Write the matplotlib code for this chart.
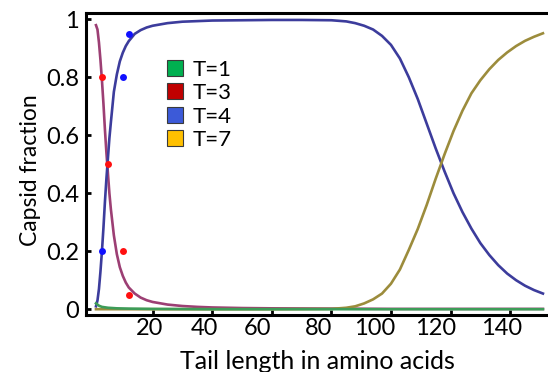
import numpy as np
import matplotlib
matplotlib.use("Agg")
import matplotlib.pyplot as plt
import matplotlib.patches as mpatches
import matplotlib.transforms as mtrans

plt.rcParams['font.family'] = ['Lato', 'DejaVu Sans']

# ---- data ----
t3_x = [1, 1.5, 2, 2.5, 3, 3.5, 4, 4.5, 5, 5.5, 6, 7, 8, 9, 10, 11, 12, 14, 16,
        18, 20, 25, 30, 35, 40, 50, 60, 80, 100, 120, 151]
t3_y = [0.98, 0.965, 0.92, 0.86, 0.79, 0.71, 0.62, 0.54, 0.47, 0.40, 0.345,
        0.255, 0.19, 0.145, 0.115, 0.092, 0.075, 0.054, 0.040, 0.031, 0.025,
        0.016, 0.011, 0.008, 0.006, 0.004, 0.003, 0.002, 0.001, 0.001, 0.001]

t4_x = [1, 1.5, 2, 2.5, 3, 3.5, 4, 4.5, 5, 5.5, 6, 7, 8, 9, 10, 11, 12, 14, 16,
        18, 20, 25, 30, 35, 40, 50, 60, 70, 80, 85, 88, 91, 94, 97, 100, 103,
        106, 109, 112, 115, 118, 121, 124, 127, 130, 133, 136, 139, 142, 145,
        148, 151]
t4_y = [0.01, 0.03, 0.07, 0.13, 0.20, 0.28, 0.37, 0.45, 0.52, 0.59, 0.645,
        0.75, 0.81, 0.855, 0.885, 0.908, 0.925, 0.95, 0.963, 0.972, 0.978,
        0.987, 0.992, 0.994, 0.996, 0.997, 0.998, 0.998, 0.997, 0.993, 0.987,
        0.978, 0.965, 0.943, 0.912, 0.865, 0.80, 0.725, 0.64, 0.555, 0.475,
        0.40, 0.335, 0.278, 0.228, 0.187, 0.152, 0.123, 0.10, 0.081, 0.066,
        0.054]

t7_x = [1, 10, 20, 40, 60, 80, 85, 88, 91, 94, 97, 100, 103, 106, 109, 112,
        115, 118, 121, 124, 127, 130, 133, 136, 139, 142, 145, 148, 151]
t7_y = [0.0, 0.0, 0.0, 0.0, 0.0, 0.001, 0.005, 0.01, 0.02, 0.034, 0.054,
        0.088, 0.137, 0.205, 0.277, 0.36, 0.45, 0.535, 0.615, 0.685, 0.745,
        0.79, 0.828, 0.86, 0.886, 0.908, 0.926, 0.94, 0.952]

t1_x = [1, 2, 3, 5, 8, 12, 20, 40, 80, 120, 151]
t1_y = [0.02, 0.012, 0.008, 0.005, 0.003, 0.002, 0.001, 0.0, 0.0, 0.0, 0.0]

pts_x = [3, 5, 10, 12]
pts_t3 = [0.8, 0.5, 0.2, 0.05]
pts_t4_x = [3, 10, 12]
pts_t4 = [0.2, 0.8, 0.95]

legend_labels = ['T=1', 'T=3', 'T=4', 'T=7']
legend_colors = ['#00b050', '#c00000', '#3c5ad8', '#ffc000']

xticks = [20, 40, 60, 80, 100, 120, 140]
yticks = [0, 0.2, 0.4, 0.6, 0.8, 1]
ytick_labels = ['0', '0.2', '0.4', '0.6', '0.8', '1']

# ---- figure ----
fig = plt.figure(figsize=(5.48, 3.72), dpi=100)
ax = fig.add_axes([86/548, 1 - 315/372, 462/548, 302/372])

lw = 1.9
ax.plot(t3_x, t3_y, color='#9c3f74', lw=lw, zorder=3)
ax.plot(t4_x, t4_y, color='#3c3c9c', lw=lw, zorder=3)
ax.plot(t7_x, t7_y, color='#9c8c3c', lw=lw, zorder=3)
ax.plot(t1_x, t1_y, color='#3d9c58', lw=lw, zorder=4)

ax.plot(pts_x, pts_t3, 'o', color='#ff1010', ms=5, mec='none', zorder=5)
ax.plot(pts_t4_x, pts_t4, 'o', color='#1010ff', ms=5, mec='none', zorder=5)

ax.set_xlim(-2.35, 152.7)
ax.set_ylim(-0.02, 1.022)

ax.spines['right'].set_visible(False)
for s in ['left', 'bottom', 'top']:
    ax.spines[s].set_linewidth(2.2)

ax.set_xticks(xticks)
ax.set_xticklabels([str(v) for v in xticks])
ax.set_yticks(yticks)
ax.set_yticklabels(ytick_labels)
ax.tick_params(direction='in', length=3.8, width=2.0, labelsize=17)
ax.tick_params(axis='x', pad=2)
ax.tick_params(axis='y', pad=5)

# tick labels in the reference sit a bit left of their ticks
dx_px = [-3, -8, -14, -13, -16, -15, -9]
for lab, dx in zip(ax.get_xticklabels(), dx_px):
    lab.set_transform(lab.get_transform() +
                      mtrans.ScaledTranslation(dx / 100, 0, fig.dpi_scale_trans))

ax.set_xlabel('Tail length in amino acids', fontsize=18)
ax.xaxis.set_label_coords(0.5, -0.115)
ax.set_ylabel('Capsid fraction', fontsize=16.5)
ax.yaxis.set_label_coords(-0.097, 0.48)

handles = [mpatches.Patch(facecolor=c, edgecolor='#3a3a3a', linewidth=0.8)
           for c in legend_colors]
ax.legend(handles, legend_labels, loc='upper left',
          bbox_to_anchor=(0.175, 0.846), frameon=False, fontsize=16,
          handlelength=0.72, handleheight=0.72, handletextpad=0.45,
          labelspacing=0.16, borderpad=0, borderaxespad=0)

fig.savefig('out.png', dpi=100, facecolor='white')
